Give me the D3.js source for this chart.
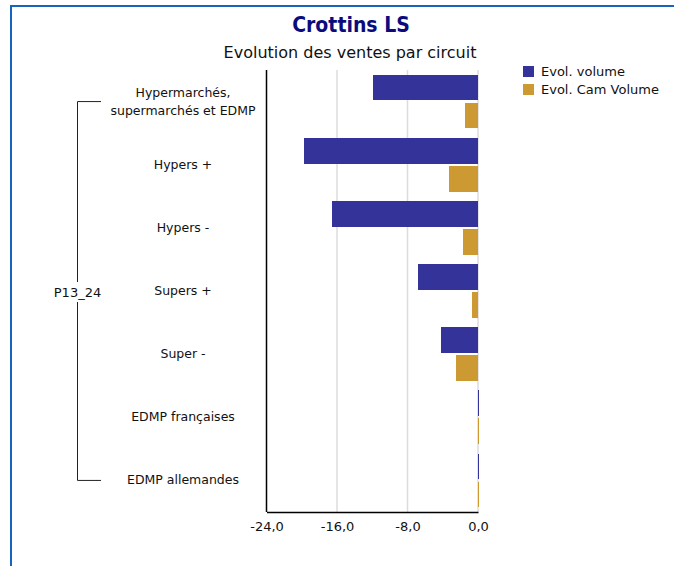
<!DOCTYPE html>
<html>
<head>
<meta charset="utf-8">
<script src="https://cdn.jsdelivr.net/npm/d3@7"></script>
<style>
  body { margin: 0; background: #fff; }
  svg { display: block; font-family: "DejaVu Sans", sans-serif; }
</style>
</head>
<body>
<div id="chart"></div>
<script>
// data
const categories = [
  ["Hypermarchés,", "supermarchés et EDMP"],
  ["Hypers +"],
  ["Hypers -"],
  ["Supers +"],
  ["Super -"],
  ["EDMP françaises"],
  ["EDMP allemandes"]
];
const evolVolume = [-11.9, -19.8, -16.6, -6.8, -4.2, -0.05, -0.05];
const evolCamVolume = [-1.5, -3.3, -1.7, -0.7, -2.5, -0.05, -0.05];
const seriesNames = ["Evol. volume", "Evol. Cam Volume"];
const seriesColors = ["#333399", "#cc9933"];
const xTicks = [-24, -16, -8, 0];
const groupLabel = "P13_24";

const W = 674, H = 566;
const plot = { left: 266.5, right: 478, top: 70, bottom: 512 };

const svg = d3.select("#chart").append("svg")
  .attr("width", W).attr("height", H);

// frame
svg.append("path")
  .attr("d", `M11,${H} L11,6 L${W},6`)
  .attr("fill", "none").attr("stroke", "#1565c0").attr("stroke-width", 2);

// titles
svg.append("text").attr("x", 351).attr("y", 32)
  .attr("text-anchor", "middle").attr("font-weight", "bold")
  .attr("font-family", "DejaVu Sans Condensed, DejaVu Sans, sans-serif")
  .attr("font-size", 21).attr("fill", "#0b0b7d").text("Crottins LS");
svg.append("text").attr("x", 350).attr("y", 58)
  .attr("text-anchor", "middle").attr("font-size", 16).attr("fill", "#111")
  .text("Evolution des ventes par circuit");

const x = d3.scaleLinear().domain([-24, 0]).range([plot.left, plot.right]);
const y = d3.scaleBand().domain(d3.range(categories.length))
  .range([plot.top, plot.bottom]).paddingInner(0.15).paddingOuter(0.075);
const ySub = d3.scaleBand().domain([0, 1]).range([0, y.bandwidth()]).paddingInner(0.08);

// gridlines
svg.append("g").selectAll("line").data(xTicks.slice(1))
  .join("line")
  .attr("x1", d => x(d)).attr("x2", d => x(d))
  .attr("y1", plot.top).attr("y2", plot.bottom)
  .attr("stroke", "#dcdcdc").attr("stroke-width", 1.5);

// bars (near-zero values still get a thin visible sliver, as in the original)
const series = [evolVolume, evolCamVolume];
series.forEach((vals, s) => {
  svg.append("g").attr("shape-rendering", "crispEdges")
    .selectAll("rect").data(vals)
    .join("rect")
    .attr("x", d => x(d))
    .attr("width", d => Math.max(1.5, x(0) - x(d)))
    .attr("y", (d, i) => y(i) + ySub(s))
    .attr("height", ySub.bandwidth())
    .attr("fill", seriesColors[s]);
});

// axes
const xAxis = d3.axisBottom(x).tickValues(xTicks).tickSize(0).tickPadding(10)
  .tickFormat(d => d3.format(".1f")(d).replace(".", ",").replace("−", "-"));
const gx = svg.append("g").attr("transform", `translate(0,${plot.bottom})`).call(xAxis);
gx.select(".domain").attr("stroke", "#000").attr("stroke-width", 1.5);
gx.selectAll("text").attr("font-size", 13).attr("fill", "#111")
  .attr("font-family", "DejaVu Sans, sans-serif");

svg.append("line").attr("x1", plot.left).attr("x2", plot.left)
  .attr("y1", plot.top).attr("y2", plot.bottom)
  .attr("stroke", "#000").attr("stroke-width", 1.5);

// category labels
const labelX = 183;
svg.append("g").selectAll("text").data(categories)
  .join("text")
  .attr("text-anchor", "middle").attr("font-size", 12.5).attr("fill", "#111")
  .attr("transform", (d, i) => `translate(${labelX},${y(i) + y.bandwidth() / 2})`)
  .each(function (lines) {
    const t = d3.select(this);
    lines.forEach((ln, k) => {
      t.append("tspan").attr("x", 0)
        .attr("y", (k - (lines.length - 1) / 2) * 18 + 4)
        .text(ln);
    });
  });

// group bracket
const yTop = y(0) + y.bandwidth() / 2, yBot = y(categories.length - 1) + y.bandwidth() / 2;
const bx = 77.5, yMid = (yTop + yBot) / 2 + 1;
svg.append("path")
  .attr("d", `M101,${yTop} H${bx} V${yMid - 10} M${bx},${yMid + 10} V${yBot} H101`)
  .attr("fill", "none").attr("stroke", "#222").attr("stroke-width", 1);
svg.append("text").attr("x", bx).attr("y", yMid + 4.5)
  .attr("text-anchor", "middle").attr("font-size", 13).attr("fill", "#111")
  .text(groupLabel);

// legend
const lg = svg.append("g").attr("transform", "translate(523,66)");
seriesNames.forEach((n, i) => {
  lg.append("rect").attr("x", 0).attr("y", i * 18).attr("width", 11).attr("height", 11)
    .attr("fill", seriesColors[i]);
  lg.append("text").attr("x", 18).attr("y", i * 18 + 10).attr("font-size", 13)
    .attr("fill", "#111").text(n);
});
</script>
</body>
</html>
